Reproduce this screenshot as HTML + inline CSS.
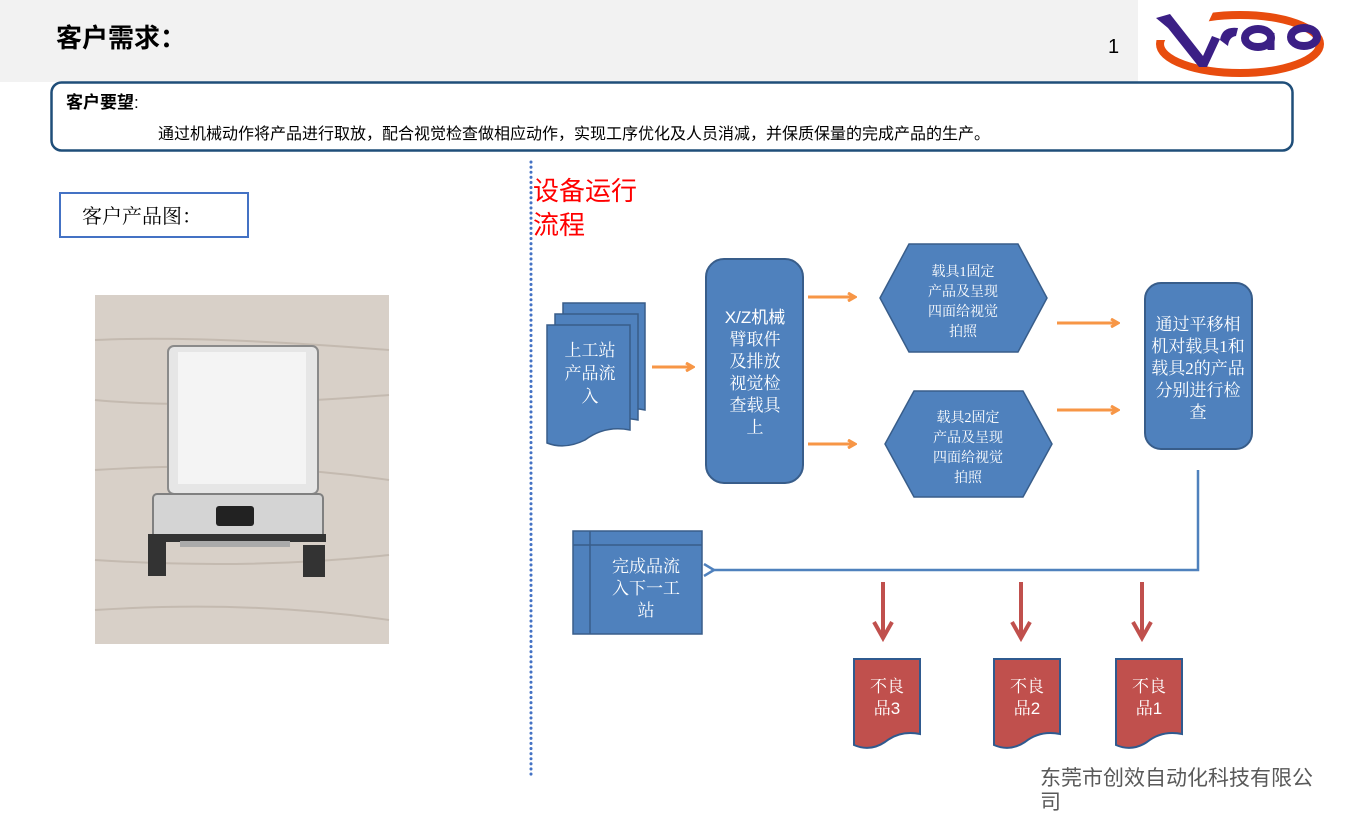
<!DOCTYPE html>
<html><head><meta charset="utf-8"><style>
html,body{margin:0;padding:0;background:#fff;}
svg{display:block;}
text{font-family:"Liberation Serif","Noto Serif CJK SC","Noto Sans CJK SC",serif;}
.s{font-family:"Liberation Sans","Noto Sans CJK SC",sans-serif;}
</style></head><body>
<svg width="1370" height="815" viewBox="0 0 1370 815" xmlns="http://www.w3.org/2000/svg">
<defs>
<marker id="ao" markerWidth="10" markerHeight="10" refX="8" refY="5" orient="auto" markerUnits="userSpaceOnUse"><path d="M1,1 L8,5 L1,9" fill="none" stroke="#f79646" stroke-width="3"/></marker>
<marker id="ab" markerWidth="14" markerHeight="14" refX="2" refY="7" orient="auto" markerUnits="userSpaceOnUse"><path d="M12,1 L2,7 L12,13" fill="none" stroke="#4f81bd" stroke-width="2.5"/></marker>
</defs>
<rect x="0" y="0" width="1138" height="82" fill="#f2f2f2"/>
<text x="56" y="47" class="s" font-size="26" font-weight="bold" fill="#000">客户需求：</text>
<text x="1108" y="53" class="s" font-size="20" fill="#000">1</text>
<!-- logo -->
<ellipse cx="1240" cy="44" rx="80" ry="29" fill="none" stroke="#e84c0e" stroke-width="8"/>
<path d="M1150,8 L1215,8 L1200,40 L1150,40 Z" fill="#fff"/>
<path d="M1156,18 L1170,14 L1203,56 L1212,36 L1220,39 L1207,67 L1199,67 L1168,28 Z" fill="#3b1f85"/>
<path d="M1220,40 Q1222,26 1238,28 L1236,36 Q1229,37 1228,46 Z" fill="#3b1f85"/>
<ellipse cx="1258" cy="38" rx="13" ry="9" fill="none" stroke="#3b1f85" stroke-width="8"/>
<path d="M1271,33 L1271,50" stroke="#3b1f85" stroke-width="7"/>
<ellipse cx="1304" cy="37" rx="13" ry="9" fill="none" stroke="#3b1f85" stroke-width="8"/>
<!-- top box -->
<rect x="51.5" y="82.5" width="1241" height="68" rx="10" fill="#fff" stroke="#1f4e79" stroke-width="2.5"/>
<text x="66" y="108" class="s" font-size="17" font-weight="bold" fill="#000">客户要望<tspan font-weight="normal">:</tspan></text>
<text x="158" y="139" class="s" font-size="16" fill="#000">通过机械动作将产品进行取放，配合视觉检查做相应动作，实现工序优化及人员消减，并保质保量的完成产品的生产。</text>
<!-- product label -->
<rect x="60" y="193" width="188" height="44" fill="#fff" stroke="#4472c4" stroke-width="2"/>
<text x="82" y="223" font-size="20" fill="#000">客户产品图：</text>
<!-- photo -->
<rect x="95" y="295" width="294" height="349" fill="#d8d0c8"/>
<g stroke="#c4bab0" stroke-width="2" fill="none">
<path d="M95,340 Q200,335 389,350"/><path d="M95,400 Q200,410 389,395"/><path d="M95,470 Q250,460 389,480"/><path d="M95,560 Q250,570 389,555"/><path d="M95,610 Q250,600 389,620"/>
</g>
<rect x="168" y="346" width="150" height="148" rx="6" fill="#e6e6e6" stroke="#8a8a8a" stroke-width="2"/>
<rect x="178" y="352" width="128" height="132" fill="#f4f4f4"/>
<rect x="153" y="494" width="170" height="44" rx="4" fill="#d4d4d4" stroke="#808080" stroke-width="2"/>
<rect x="216" y="506" width="38" height="20" rx="3" fill="#222"/>
<rect x="148" y="534" width="178" height="8" fill="#333"/>
<rect x="148" y="534" width="18" height="42" fill="#333"/>
<rect x="303" y="545" width="22" height="32" fill="#333"/>
<rect x="180" y="541" width="110" height="6" fill="#aaa"/>
<!-- dotted line -->
<line x1="531" y1="162" x2="531" y2="775" stroke="#4472c4" stroke-width="3" stroke-dasharray="0.1 5" stroke-linecap="round"/>
<text x="533" y="200" class="s" font-size="26" fill="#ff0000">设备运行</text>
<text x="533" y="234" class="s" font-size="26" fill="#ff0000">流程</text>
<!-- multi doc -->
<g fill="#4f81bd" stroke="#385d8a" stroke-width="1.5">
<path d="M563,303 H645 V410 Q620,405 600,420 Q585,430 563,425 Z"/>
<path d="M555,314 H638 V420 Q615,415 595,430 Q575,440 555,435 Z"/>
<path d="M547,325 H630 V430 Q605,425 585,440 Q565,450 547,443 Z"/>
</g>
<g fill="#fff" font-size="17" text-anchor="middle"><text x="590" y="356">上工站</text><text x="590" y="379">产品流</text><text x="590" y="402">入</text></g>
<line x1="652" y1="367" x2="693" y2="367" stroke="#f79646" stroke-width="3" marker-end="url(#ao)"/>
<rect x="706" y="259" width="97" height="224" rx="18" fill="#4f81bd" stroke="#385d8a" stroke-width="2"/>
<g fill="#fff" font-size="17" text-anchor="middle"><text x="755" y="323" class="s">X/Z机械</text><text x="755" y="345">臂取件</text><text x="755" y="367">及排放</text><text x="755" y="389">视觉检</text><text x="755" y="411">查载具</text><text x="755" y="433">上</text></g>
<g stroke="#f79646" stroke-width="3">
<line x1="808" y1="297" x2="855" y2="297" marker-end="url(#ao)"/>
<line x1="808" y1="444" x2="855" y2="444" marker-end="url(#ao)"/>
<line x1="1057" y1="323" x2="1118" y2="323" marker-end="url(#ao)"/>
<line x1="1057" y1="410" x2="1118" y2="410" marker-end="url(#ao)"/>
</g>
<polygon points="880,298 909,244 1018,244 1047,298 1018,352 909,352" fill="#4f81bd" stroke="#385d8a" stroke-width="1.5"/>
<g fill="#fff" font-size="14" text-anchor="middle"><text x="963" y="276">载具1固定</text><text x="963" y="296">产品及呈现</text><text x="963" y="316">四面给视觉</text><text x="963" y="336">拍照</text></g>
<polygon points="885,444 914,391 1023,391 1052,444 1023,497 914,497" fill="#4f81bd" stroke="#385d8a" stroke-width="1.5"/>
<g fill="#fff" font-size="14" text-anchor="middle"><text x="968" y="422">载具2固定</text><text x="968" y="442">产品及呈现</text><text x="968" y="462">四面给视觉</text><text x="968" y="482">拍照</text></g>
<rect x="1145" y="283" width="107" height="166" rx="16" fill="#4f81bd" stroke="#385d8a" stroke-width="2"/>
<g fill="#fff" font-size="17" text-anchor="middle"><text x="1198" y="330">通过平移相</text><text x="1198" y="352">机对载具1和</text><text x="1198" y="374">载具2的产品</text><text x="1198" y="396">分别进行检</text><text x="1198" y="418">查</text></g>
<polyline points="1198,470 1198,570 714,570" fill="none" stroke="#4f81bd" stroke-width="2.5" marker-end="url(#ab)"/>
<rect x="573" y="531" width="129" height="103" fill="#4f81bd" stroke="#385d8a" stroke-width="1.5"/>
<line x1="590" y1="531" x2="590" y2="634" stroke="#385d8a" stroke-width="1.5"/>
<line x1="573" y1="545" x2="702" y2="545" stroke="#385d8a" stroke-width="1.5"/>
<g fill="#fff" font-size="17" text-anchor="middle"><text x="646" y="572">完成品流</text><text x="646" y="594">入下一工</text><text x="646" y="616">站</text></g>
<g stroke="#c0504d" stroke-width="4" fill="none">
<line x1="883" y1="582" x2="883" y2="638"/><path d="M874,622 L883,638 L892,622"/>
<line x1="1021" y1="582" x2="1021" y2="638"/><path d="M1012,622 L1021,638 L1030,622"/>
<line x1="1142" y1="582" x2="1142" y2="638"/><path d="M1133,622 L1142,638 L1151,622"/>
</g>
<g fill="#c0504d" stroke="#2f5a8f" stroke-width="2">
<path d="M854,659 H920 V734 Q900,730 885,742 Q870,752 854,745 Z"/>
<path d="M994,659 H1060 V734 Q1040,730 1025,742 Q1010,752 994,745 Z"/>
<path d="M1116,659 H1182 V734 Q1162,730 1147,742 Q1132,752 1116,745 Z"/>
</g>
<g fill="#fff" font-size="17" text-anchor="middle"><text x="887" y="692">不良</text><text x="887" y="714">品<tspan class="s">3</tspan></text><text x="1027" y="692">不良</text><text x="1027" y="714">品<tspan class="s">2</tspan></text><text x="1149" y="692">不良</text><text x="1149" y="714">品<tspan class="s">1</tspan></text></g>
<text x="1040" y="785" class="s" font-size="21" fill="#595959">东莞市创效自动化科技有限公</text>
<text x="1040" y="809" class="s" font-size="21" fill="#595959">司</text>
</svg>
</body></html>
